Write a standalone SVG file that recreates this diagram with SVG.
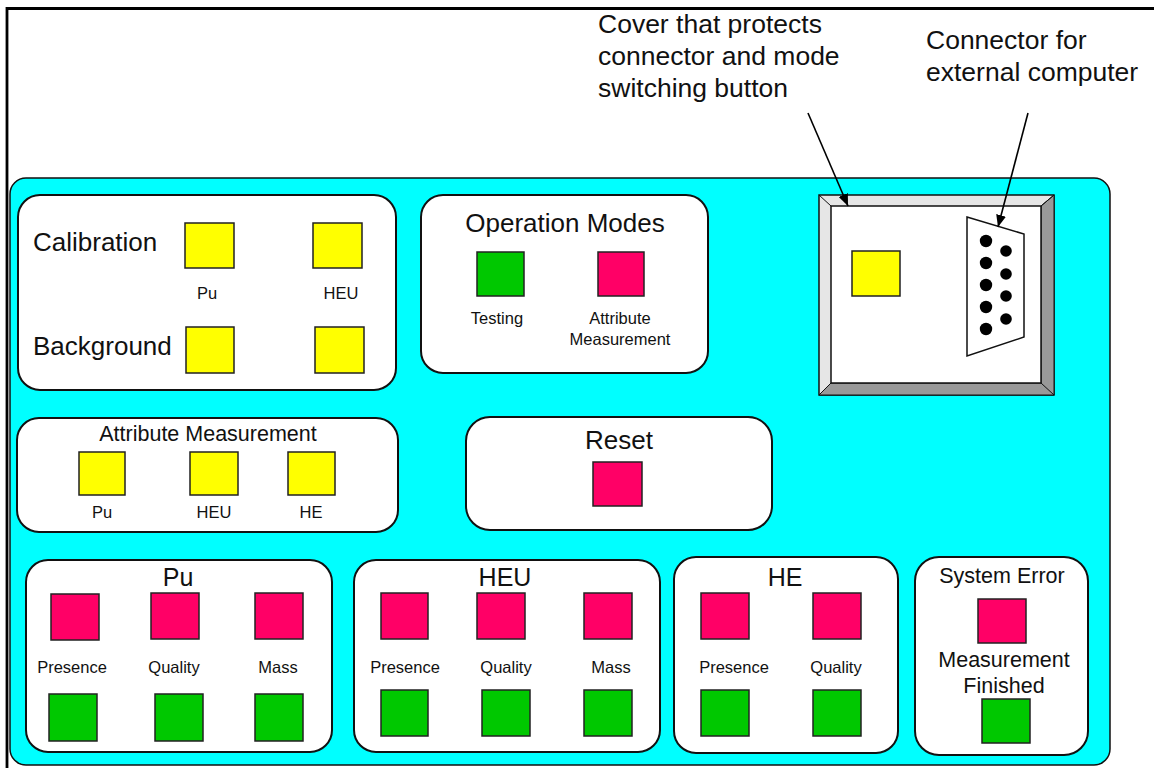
<svg xmlns="http://www.w3.org/2000/svg" width="1154" height="768" viewBox="0 0 1154 768">
<defs>
<style>
text{font-family:"Liberation Sans",Arial,sans-serif;fill:#111;}
.lg{font-size:26px}
.ann{font-size:26.5px}
.md{font-size:25px}
.ttl{font-size:26px}
.sm{font-size:16.5px}
.mm{font-size:21.5px}
.box{fill:#fff;stroke:#111;stroke-width:2}
.sq{stroke:#222;stroke-width:1.5}
.y{fill:#ffff00}
.r{fill:#ff0066}
.g{fill:#00c800}
.pin{fill:#000}
</style>
<marker id="ah" viewBox="0 0 12 10" refX="12" refY="5" markerWidth="12" markerHeight="10" markerUnits="userSpaceOnUse" orient="auto">
<path d="M0,0 L12,5 L0,10 z" fill="#000"/>
</marker>
</defs>
<rect width="1154" height="768" fill="#fff"/>
<g id="frame">
<path d="M7,768 V8.5 H1154" fill="none" stroke="#000" stroke-width="2.8"/>
</g>
<g id="panel">
<rect x="10" y="178" width="1100" height="587" rx="16" fill="#00ffff" stroke="#111" stroke-width="1.5"/>
</g>
<g id="annotations">
<text class="ann" x="598" y="33">Cover that protects</text>
<text class="ann" x="598" y="65">connector and mode</text>
<text class="ann" x="598" y="97">switching button</text>
<text class="ann" x="926" y="49">Connector for</text>
<text class="ann" x="926" y="81">external computer</text>
</g>
<g id="calibration">
<rect class="box" x="18" y="195" width="378" height="195" rx="22"/>
<text class="lg" x="33" y="251">Calibration</text>
<text class="lg" x="33" y="355">Background</text>
<rect class="sq y" x="185" y="223" width="49" height="45"/>
<rect class="sq y" x="313" y="223" width="49" height="45"/>
<text class="sm" x="207" y="299" text-anchor="middle">Pu</text>
<text class="sm" x="341" y="299" text-anchor="middle">HEU</text>
<rect class="sq y" x="186" y="327" width="48" height="46"/>
<rect class="sq y" x="315" y="327" width="49" height="46"/>
</g>
<g id="operation-modes">
<rect class="box" x="421" y="195" width="287" height="178" rx="22"/>
<text class="ttl" x="565" y="232" text-anchor="middle">Operation Modes</text>
<rect class="sq g" x="477" y="252" width="47" height="44"/>
<rect class="sq r" x="598" y="252" width="46" height="44"/>
<text class="sm" x="497" y="324" text-anchor="middle">Testing</text>
<text class="sm" x="620" y="324" text-anchor="middle">Attribute</text>
<text class="sm" x="620" y="345" text-anchor="middle">Measurement</text>
</g>
<g id="cover">
<rect x="819" y="195" width="235" height="200" fill="#e6e6e6" stroke="#111" stroke-width="1.5"/>
<path d="M1054,195 L1041,206 L1041,383 L831,383 L819,395 L1054,395 Z" fill="#999" stroke="#111" stroke-width="1"/>
<rect x="831" y="206" width="210" height="177" fill="#fff" stroke="#111" stroke-width="1.5"/>
<path d="M819,195 L831,206 M1054,195 L1041,206 M819,395 L831,383 M1054,395 L1041,383" stroke="#111" stroke-width="1"/>
<rect class="sq y" x="852" y="251" width="48" height="45"/>
</g>
<g id="db9-connector">
<path d="M967,217 L1024,234 L1024,337 L967,356 Z" fill="#fff" stroke="#111" stroke-width="1.5"/>
<circle class="pin" cx="986" cy="241" r="6.2"/>
<circle class="pin" cx="986" cy="263" r="6.2"/>
<circle class="pin" cx="986" cy="285" r="6.2"/>
<circle class="pin" cx="986" cy="307" r="6.2"/>
<circle class="pin" cx="986" cy="329" r="6.2"/>
<circle class="pin" cx="1006" cy="251" r="5.8"/>
<circle class="pin" cx="1006" cy="274" r="5.8"/>
<circle class="pin" cx="1006" cy="296" r="5.8"/>
<circle class="pin" cx="1006" cy="319" r="5.8"/>
</g>
<g id="attribute-measurement">
<rect class="box" x="17" y="418" width="381" height="114" rx="22"/>
<text class="mm" x="208" y="441" text-anchor="middle">Attribute Measurement</text>
<rect class="sq y" x="79" y="452" width="46" height="43"/>
<rect class="sq y" x="190" y="452" width="48" height="43"/>
<rect class="sq y" x="288" y="452" width="47" height="43"/>
<text class="sm" x="102" y="518" text-anchor="middle">Pu</text>
<text class="sm" x="214" y="518" text-anchor="middle">HEU</text>
<text class="sm" x="311" y="518" text-anchor="middle">HE</text>
</g>
<g id="reset">
<rect class="box" x="466" y="417" width="306" height="113" rx="24"/>
<text class="ttl" x="619" y="449" text-anchor="middle">Reset</text>
<rect class="sq r" x="593" y="462" width="49" height="44"/>
</g>
<g id="pu">
<rect class="box" x="26" y="560" width="306" height="192" rx="22"/>
<text class="md" x="178" y="586" text-anchor="middle">Pu</text>
<rect class="sq r" x="51" y="594" width="48" height="46"/>
<rect class="sq r" x="151" y="593" width="48" height="46"/>
<rect class="sq r" x="255" y="593" width="48" height="46"/>
<text class="sm" x="72" y="673" text-anchor="middle">Presence</text>
<text class="sm" x="174" y="673" text-anchor="middle">Quality</text>
<text class="sm" x="278" y="673" text-anchor="middle">Mass</text>
<rect class="sq g" x="49" y="694" width="48" height="47"/>
<rect class="sq g" x="155" y="694" width="48" height="47"/>
<rect class="sq g" x="255" y="694" width="48" height="47"/>
</g>
<g id="heu">
<rect class="box" x="354" y="560" width="306" height="192" rx="22"/>
<text class="md" x="505" y="586" text-anchor="middle">HEU</text>
<rect class="sq r" x="381" y="593" width="47" height="46"/>
<rect class="sq r" x="477" y="593" width="48" height="46"/>
<rect class="sq r" x="584" y="593" width="48" height="46"/>
<text class="sm" x="405" y="673" text-anchor="middle">Presence</text>
<text class="sm" x="506" y="673" text-anchor="middle">Quality</text>
<text class="sm" x="611" y="673" text-anchor="middle">Mass</text>
<rect class="sq g" x="381" y="690" width="47" height="46"/>
<rect class="sq g" x="482" y="690" width="48" height="46"/>
<rect class="sq g" x="584" y="690" width="48" height="46"/>
</g>
<g id="he">
<rect class="box" x="674" y="557" width="224" height="196" rx="22"/>
<text class="md" x="785" y="586" text-anchor="middle">HE</text>
<rect class="sq r" x="701" y="593" width="48" height="46"/>
<rect class="sq r" x="813" y="593" width="48" height="46"/>
<text class="sm" x="734" y="673" text-anchor="middle">Presence</text>
<text class="sm" x="836" y="673" text-anchor="middle">Quality</text>
<rect class="sq g" x="701" y="690" width="48" height="46"/>
<rect class="sq g" x="813" y="690" width="48" height="46"/>
</g>
<g id="system-error">
<rect class="box" x="915" y="557" width="173" height="198" rx="24"/>
<text class="mm" x="1002" y="583" text-anchor="middle">System Error</text>
<rect class="sq r" x="978" y="599" width="48" height="44"/>
<text class="mm" x="1004" y="667" text-anchor="middle">Measurement</text>
<text class="mm" x="1004" y="693" text-anchor="middle">Finished</text>
<rect class="sq g" x="982" y="699" width="48" height="44"/>
</g>
<g id="connectors" fill="none" stroke="#000" stroke-width="1.6">
<line x1="808" y1="113" x2="848" y2="206" marker-end="url(#ah)"/>
<line x1="1028" y1="113" x2="998" y2="227" marker-end="url(#ah)"/>
</g>
</svg>
